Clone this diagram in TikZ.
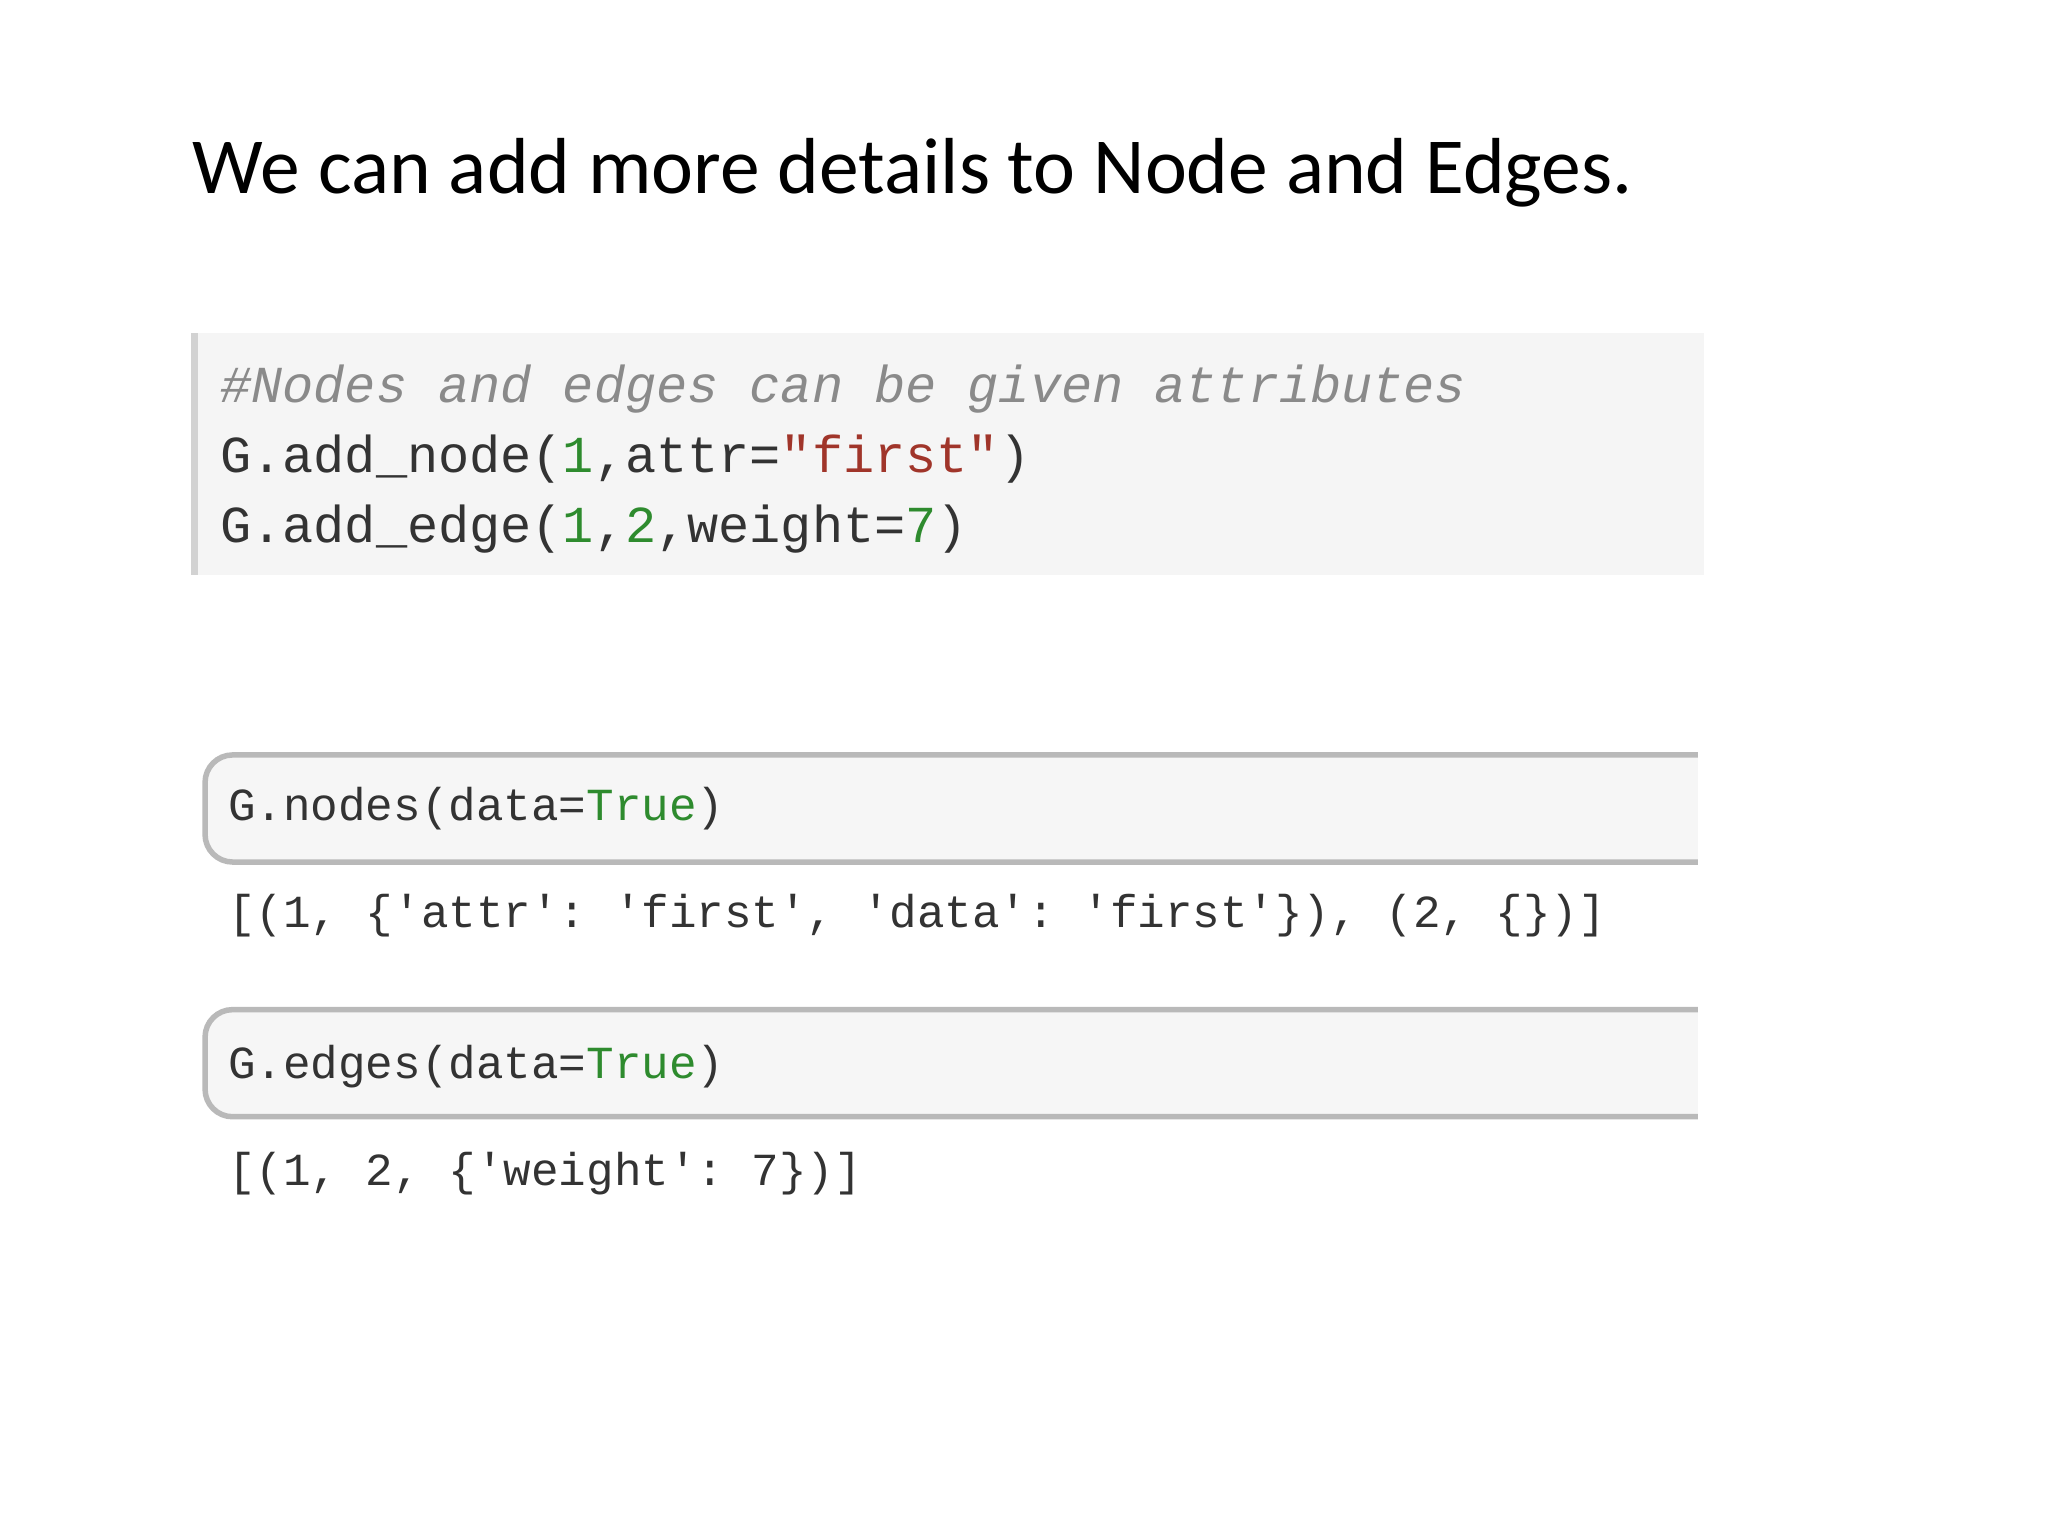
\documentclass[tikz,border=0pt]{standalone}
\usepackage{fontspec}
\setmainfont{Carlito}
\setmonofont{Liberation Mono}
\definecolor{cgreen}{HTML}{2E8B2E}
\definecolor{cred}{HTML}{A0352A}
\definecolor{cgray}{HTML}{8A8A8A}
\definecolor{ctext}{HTML}{333333}
\tikzset{
  code/.style={anchor=base west, inner sep=0pt, text=ctext, font=\ttfamily\fontsize{11.3pt}{13pt}\selectfont},
  codeb/.style={anchor=base west, inner sep=0pt, text=ctext, font=\ttfamily\fontsize{10pt}{12pt}\selectfont},
  cell/.style={draw=gray!55, line width=1.2pt, fill=gray!7, rounded corners=6pt}
}
\begin{document}
\begin{tikzpicture}[x=0.01cm,y=-0.01cm]
\useasboundingbox (0,0) rectangle (1568,1176);
\fill[white] (0,0) rectangle (1568,1176);
\node[anchor=base west, inner sep=0pt, font=\fontsize{17.3pt}{21pt}\selectfont] (title) at (147,148) {We can add more details to Node and Edges.};
% first code block
\fill[gray!8] (148,255) rectangle (1305,440);
\draw[gray!35, line width=1.5pt] (149,255) -- (149,440);
\node[code, text=cgray, font=\ttfamily\itshape\fontsize{11.3pt}{13pt}\selectfont] (l1) at (168,308) {\#Nodes and edges can be given attributes};
\node[code] (l2) at (168,362) {G.add\_node(\textcolor{cgreen}{1},attr=\textcolor{cred}{"first"})};
\node[code] (l3) at (168,415) {G.add\_edge(\textcolor{cgreen}{1},\textcolor{cgreen}{2},weight=\textcolor{cgreen}{7})};
% second cell
\draw[cell] (1300,578) -- (157,578) -- (157,660) -- (1300,660);
\node[codeb] (c2) at (174,628) {G.nodes(data=\textcolor{cgreen}{True})};
\node[codeb] (o2) at (174,710) {[(1, \{'attr': 'first', 'data': 'first'\}), (2, \{\})]};
% third cell
\draw[cell] (1300,773) -- (157,773) -- (157,855) -- (1300,855);
\node[codeb] (c3) at (174,826) {G.edges(data=\textcolor{cgreen}{True})};
\node[codeb] (o3) at (174,908) {[(1, 2, \{'weight': 7\})]};
\end{tikzpicture}
\end{document}
